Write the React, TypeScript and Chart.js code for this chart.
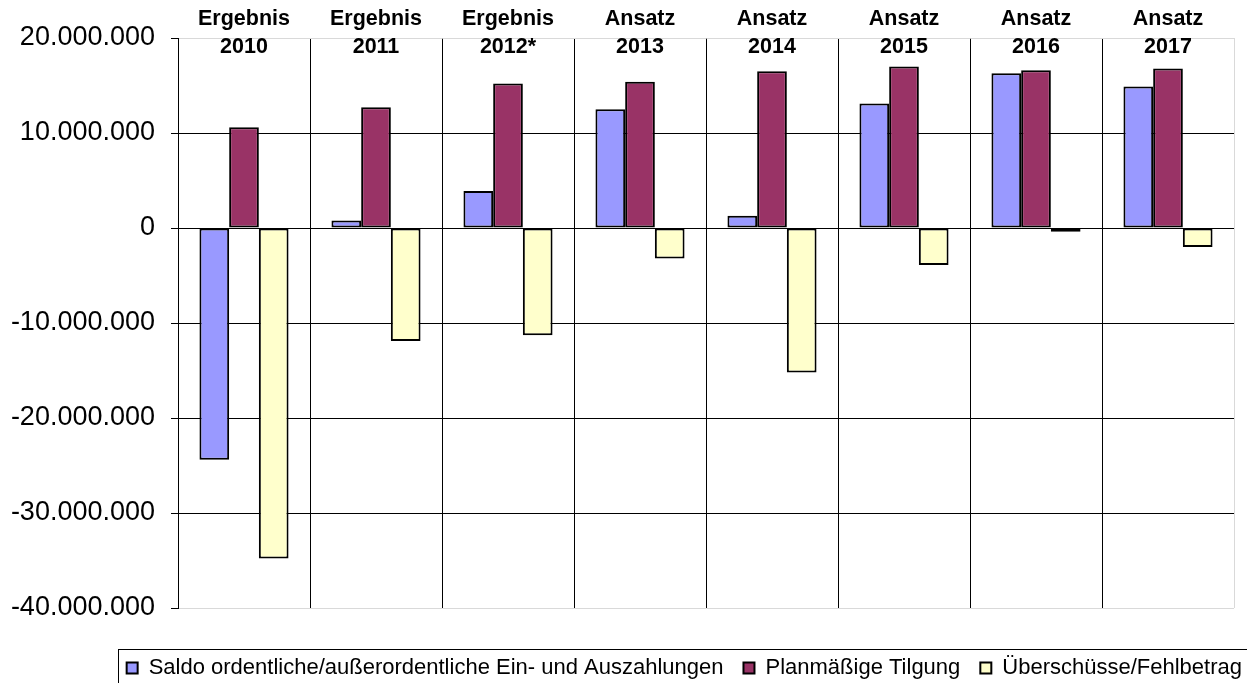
import React, { useEffect, useRef } from 'react';
import { Chart, registerables } from 'chart.js';

Chart.register(...registerables);

const categoryTop = ['Ergebnis', 'Ergebnis', 'Ergebnis', 'Ansatz', 'Ansatz', 'Ansatz', 'Ansatz', 'Ansatz'];
const categoryYear = ['2010', '2011', '2012*', '2013', '2014', '2015', '2016', '2017'];
const seriesNames = [
  'Saldo ordentliche/außerordentliche Ein- und Auszahlungen',
  'Planmäßige Tilgung',
  'Überschüsse/Fehlbetrag',
];
const saldo = [-24400000, 800000, 3900000, 12500000, 1300000, 13100000, 16300000, 14900000];
const tilgung = [10600000, 12700000, 15200000, 15400000, 16500000, 17000000, 16600000, 16800000];
const ueberschuss = [-34800000, -11900000, -11300000, -3200000, -15200000, -3900000, -400000, -2000000];
const yTicks = [20000000, 10000000, 0, -10000000, -20000000, -30000000, -40000000];

const seriesColors = ['#9999FF', '#993366', '#FFFFCC'];

function fmt(v: number): string {
  const s = Math.abs(v).toString().replace(/\B(?=(\d{3})+(?!\d))/g, '.');
  return (v < 0 ? '-' : '') + s;
}

export default function App() {
  const ref = useRef<HTMLCanvasElement>(null);

  useEffect(() => {
    const FONT = "'Liberation Sans', Arial, Helvetica, sans-serif";
    const LEGEND_DX = 28;

    const catPlugin = {
      id: 'catLabels',
      afterDraw(chart: any) {
        const ctx = chart.ctx;
        const xs = chart.scales.x;
        ctx.save();
        ctx.fillStyle = '#000';
        ctx.font = `bold 21.5px ${FONT}`;
        ctx.textAlign = 'center';
        ctx.textBaseline = 'middle';
        categoryYear.forEach((yr, i) => {
          const x = xs.getPixelForValue(i);
          ctx.fillText(categoryTop[i], x, 19.5);
          ctx.fillText(yr, x, 47.5);
        });
        ctx.restore();
      },
    };

    const legendPlugin = {
      id: 'legendShiftBorder',
      afterLayout(chart: any) {
        if (chart.legend) {
          chart.legend.left += LEGEND_DX;
          chart.legend.right += LEGEND_DX;
        }
      },
      afterDraw(chart: any) {
        const lg = chart.legend;
        if (!lg || !lg.legendHitBoxes || !lg.legendHitBoxes.length) return;
        const hb = lg.legendHitBoxes[0];
        const ctx = chart.ctx;
        ctx.save();
        ctx.strokeStyle = '#000';
        ctx.lineWidth = 1;
        ctx.strokeRect(Math.round(hb.left - 9) + 0.5, Math.round(hb.top - 8) + 0.5, 3000, 300);
        ctx.restore();
      },
    };

    const chart = new Chart(ref.current as HTMLCanvasElement, {
      type: 'bar',
      data: {
        labels: categoryYear,
        datasets: [saldo, tilgung, ueberschuss].map((d, i) => ({
          label: seriesNames[i],
          data: d,
          backgroundColor: seriesColors[i],
          borderColor: '#000',
          borderWidth: 2,
          borderSkipped: false,
          inflateAmount: 0,
          categoryPercentage: 0.675,
          barPercentage: 1,
        })),
      },
      options: {
        animation: false,
        responsive: false,
        devicePixelRatio: 1,
        layout: { padding: { top: 38, right: 13, bottom: 11, left: 0 } },
        plugins: {
          tooltip: { enabled: false },
          legend: {
            position: 'bottom',
            align: 'end',
            labels: {
              color: '#000',
              font: { family: FONT, size: 22 },
              boxWidth: 11,
              boxHeight: 11,
              padding: 20,
            },
          },
        },
        scales: {
          x: {
            ticks: { display: false },
            border: { display: false },
            grid: {
              offset: true,
              drawTicks: false,
              lineWidth: 1,
              color: (c: any) => (c.index === undefined ? '#d9d9d9' : '#000'),
            },
            afterFit: (s: any) => {
              s.height = 29;
            },
          },
          y: {
            min: -40000000,
            max: 20000000,
            afterBuildTicks: (s: any) => {
              s.ticks = yTicks.map((v) => ({ value: v }));
            },
            afterFit: (s: any) => {
              s.width = 178;
            },
            border: { display: true, color: '#000', width: 1 },
            grid: {
              lineWidth: 1,
              tickLength: 7,
              tickColor: '#000',
              color: (c: any) =>
                c.tick && (c.tick.value === 20000000 || c.tick.value === -40000000) ? '#d9d9d9' : '#000',
            },
            ticks: {
              color: '#000',
              padding: 16,
              font: { family: FONT, size: 27 },
              callback: (v: any) => fmt(Number(v)),
            },
          },
        },
      },
      plugins: [catPlugin, legendPlugin],
    } as any);

    return () => chart.destroy();
  }, []);

  return (
    <div
      style={{
        position: 'fixed',
        left: 0,
        top: 0,
        width: 1247,
        height: 683,
        overflow: 'hidden',
        background: '#fff',
      }}
    >
      <canvas ref={ref} width={1247} height={700} style={{ display: 'block' }} />
    </div>
  );
}
